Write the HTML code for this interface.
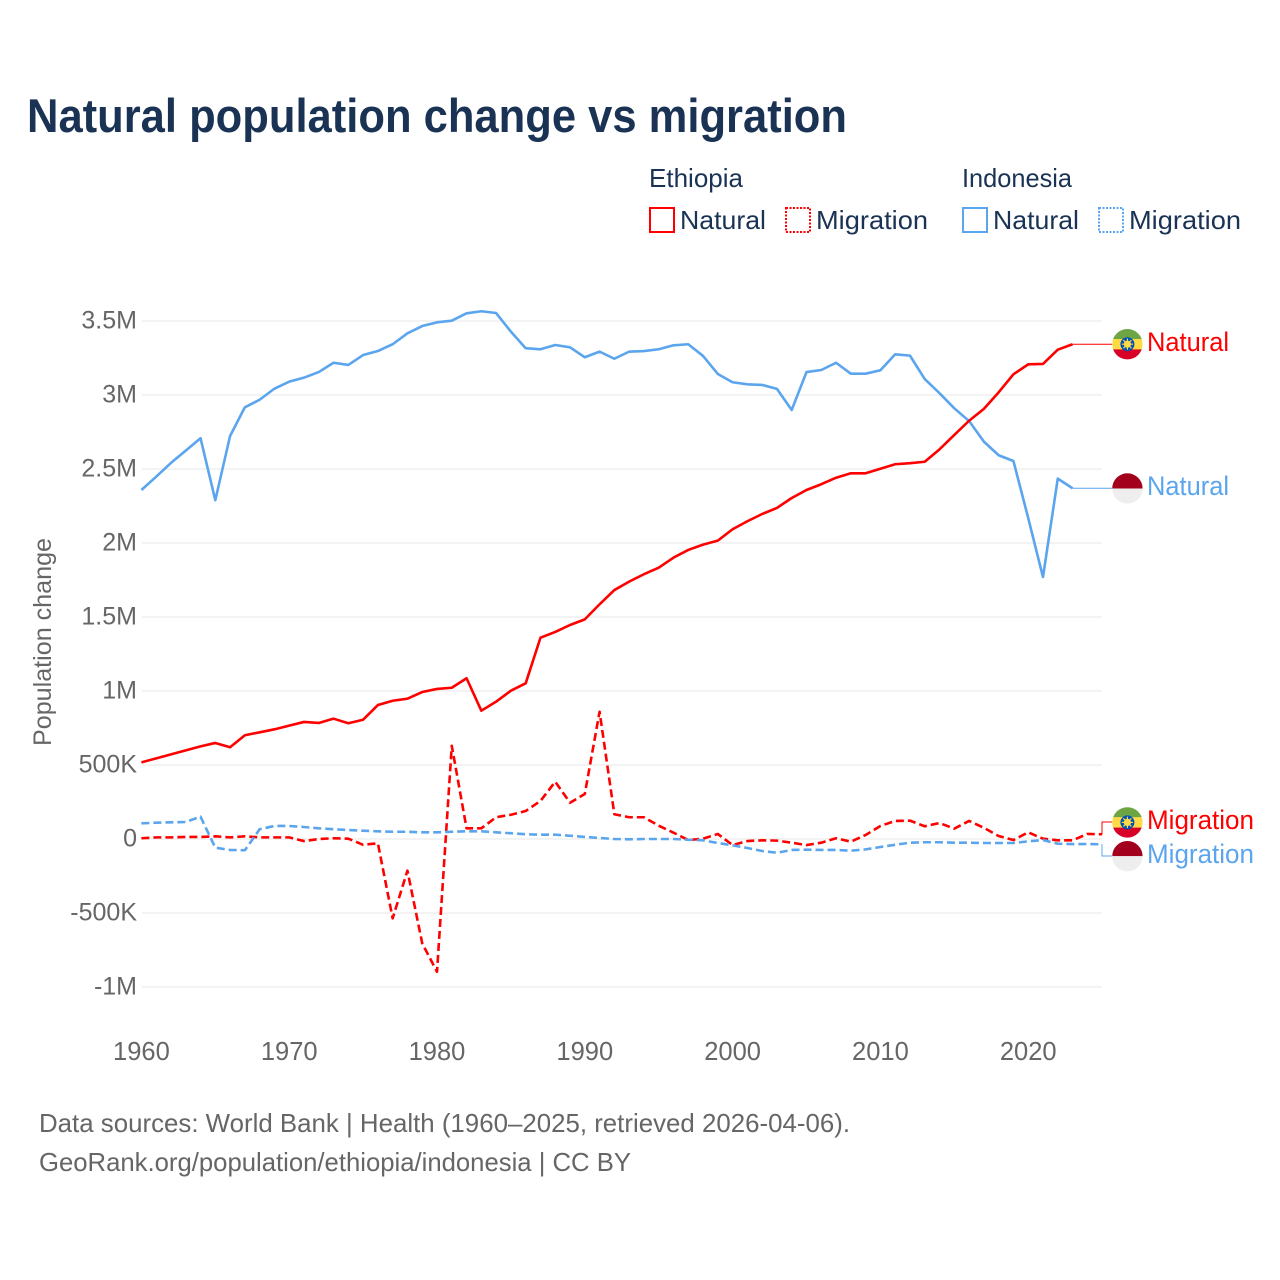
<!DOCTYPE html>
<html lang="en">
<head>
<meta charset="utf-8">
<title>Natural population change vs migration</title>
<style>
html,body{margin:0;padding:0;background:#fff}
svg{display:block}
text{font-family:"Liberation Sans",sans-serif}
</style>
</head>
<body>
<svg id="chart" xmlns="http://www.w3.org/2000/svg" width="1280" height="1280" viewBox="0 0 1280 1280">
<rect width="1280" height="1280" fill="#fff"/>
<text x="27" y="132" font-size="47" font-weight="700" fill="#1a3354" textLength="820" lengthAdjust="spacingAndGlyphs">Natural population change vs migration</text>

<g font-size="26" fill="#1a3354">
<text x="649" y="187" textLength="94" lengthAdjust="spacingAndGlyphs">Ethiopia</text>
<text x="962" y="187" textLength="110" lengthAdjust="spacingAndGlyphs">Indonesia</text>
<g>
<rect x="650" y="208" width="24" height="24" fill="none" stroke="#ff0000" stroke-width="2"/>
<text x="680" y="229" textLength="86" lengthAdjust="spacingAndGlyphs">Natural</text>
</g>
<g>
<rect x="786" y="208" width="24" height="24" fill="none" stroke="#ff0000" stroke-width="2" stroke-dasharray="2 1.5"/>
<text x="816" y="229" textLength="112" lengthAdjust="spacingAndGlyphs">Migration</text>
</g>
<g>
<rect x="963" y="208" width="24" height="24" fill="none" stroke="#5ba5ee" stroke-width="2"/>
<text x="993" y="229" textLength="86" lengthAdjust="spacingAndGlyphs">Natural</text>
</g>
<g>
<rect x="1099" y="208" width="24" height="24" fill="none" stroke="#5ba5ee" stroke-width="2" stroke-dasharray="2 1.5"/>
<text x="1129" y="229" textLength="112" lengthAdjust="spacingAndGlyphs">Migration</text>
</g>
</g>

<g id="grid"></g>
<g id="ytick-labels"></g>
<g id="xtick-labels"></g>
<text transform="translate(51 642) rotate(-90)" text-anchor="middle" font-size="25" fill="#666" textLength="208" lengthAdjust="spacingAndGlyphs">Population change</text>
<g id="series"></g>

<defs>
<clipPath id="flag-clip"><circle cx="0" cy="0" r="15.2"/></clipPath>
<g id="flag-et">
<g clip-path="url(#flag-clip)">
<rect x="-16" y="-16" width="32" height="11" fill="#6da544"/>
<rect x="-16" y="-5.2" width="32" height="10.6" fill="#ffda44"/>
<rect x="-16" y="5.2" width="32" height="11" fill="#d80027"/>
<circle r="7" fill="#0052b4"/>
<circle r="3.6" fill="#ffda44"/>
<path d="M0-5.6V5.6M-5.6 0H5.6M-4-4L4 4M-4 4L4-4" stroke="#ffda44" stroke-width="1.2"/>
</g>
</g>
<g id="flag-id">
<g clip-path="url(#flag-clip)">
<rect x="-16" y="-16" width="32" height="16" fill="#a2001d"/>
<rect x="-16" y="0" width="32" height="16" fill="#eeeeee"/>
</g>
</g>
</defs>
<use href="#flag-et" x="1127.4" y="344.2"/>
<use href="#flag-id" x="1127.4" y="488.5"/>
<use href="#flag-et" x="1127.4" y="822.4"/>
<use href="#flag-id" x="1127.4" y="856.2"/>

<g font-size="26.5">
<text x="1147" y="351" fill="#ff0000" textLength="82" lengthAdjust="spacingAndGlyphs">Natural</text>
<text x="1147" y="495" fill="#5ba5ee" textLength="82" lengthAdjust="spacingAndGlyphs">Natural</text>
<text x="1147" y="829" fill="#ff0000" textLength="107" lengthAdjust="spacingAndGlyphs">Migration</text>
<text x="1147" y="863" fill="#5ba5ee" textLength="107" lengthAdjust="spacingAndGlyphs">Migration</text>
</g>

<g font-size="26" fill="#666">
<text x="39" y="1132" textLength="811" lengthAdjust="spacingAndGlyphs">Data sources: World Bank | Health (1960–2025, retrieved 2026-04-06).</text>
<text x="39" y="1171" textLength="592" lengthAdjust="spacingAndGlyphs">GeoRank.org/population/ethiopia/indonesia | CC BY</text>
</g>
</svg>

<script>
// Values are in thousands of people.
const startYear = 1960;
const xTickYears = [1960, 1970, 1980, 1990, 2000, 2010, 2020];
const yTickValues = [3500, 3000, 2500, 2000, 1500, 1000, 500, 0, -500, -1000];
const yTickLabels = ["3.5M", "3M", "2.5M", "2M", "1.5M", "1M", "500K", "0", "-500K", "-1M"];

const ethiopiaNatural = [518, 545, 572, 599, 626, 649, 620, 701, 721, 741,
  766, 791, 784, 813, 782, 806, 905, 934, 948, 993,
  1014, 1022, 1086, 867, 928, 1002, 1052, 1360, 1399, 1446,
  1484, 1586, 1682, 1739, 1789, 1833, 1901, 1953, 1989, 2016,
  2093, 2147, 2196, 2237, 2304, 2358, 2397, 2441, 2471, 2471,
  2502, 2532, 2539, 2549, 2633, 2730, 2826, 2906, 3018, 3140,
  3207, 3210, 3306, 3343];

const indonesiaNatural = [2358, 2448, 2541, 2624, 2708, 2289, 2723, 2917, 2968, 3043,
  3090, 3117, 3155, 3218, 3203, 3270, 3297, 3343, 3417, 3466,
  3491, 3502, 3552, 3566, 3554, 3428, 3316, 3309, 3338, 3322,
  3255, 3293, 3245, 3293, 3297, 3309, 3336, 3343, 3264, 3142,
  3086, 3072, 3068, 3041, 2899, 3155, 3169, 3218, 3144, 3144,
  3167, 3275, 3266, 3108, 3012, 2910, 2824, 2685, 2593, 2554,
  2169, 1770, 2435, 2370];

const ethiopiaMigration = [5, 11, 11, 14, 14, 18, 11, 18, 11, 11,
  11, -14, 0, 5, 2, -39, -29, -536, -214, -705,
  -897, 630, 72, 72, 147, 164, 189, 257, 387, 245,
  304, 860, 167, 147, 147, 90, 43, -7, 2, 34,
  -41, -14, -9, -11, -25, -41, -25, 5, -18, 27,
  88, 122, 124, 86, 108, 70, 122, 76, 20, -7,
  45, 2, -9, -9, 34, 32];

const indonesiaMigration = [106, 110, 113, 115, 151, -59, -74, -76, 66, 88,
  88, 81, 72, 66, 61, 56, 52, 49, 49, 45,
  45, 49, 52, 52, 45, 39, 32, 29, 29, 22,
  14, 7, 0, -2, 0, 0, 0, -5, -9, -27,
  -43, -61, -81, -93, -74, -72, -74, -74, -79, -70,
  -54, -39, -25, -22, -22, -25, -25, -27, -27, -27,
  -16, -7, -32, -34, -34, -36];

const RED = "#ff0000";
const BLUE = "#5ba5ee";
const NS = "http://www.w3.org/2000/svg";

function xScale(year) { return 141.4 + (year - 1960) * 14.78; }
function yScale(v) { return 839 - v * 0.148; }

function make(tag, attrs, parent) {
  const el = document.createElementNS(NS, tag);
  for (const k in attrs) el.setAttribute(k, attrs[k]);
  parent.appendChild(el);
  return el;
}

const grid = document.getElementById("grid");
const yLabels = document.getElementById("ytick-labels");
const xLabels = document.getElementById("xtick-labels");
const seriesGroup = document.getElementById("series");

yTickValues.forEach(function (v, i) {
  const line = make("line", { x1: 142, x2: 1102, y1: yScale(v), y2: yScale(v), stroke: "#ececec", "stroke-width": 1.3 }, grid);
  
  
  const label = make("text", { x: 137, y: yScale(v) + 7.5, "text-anchor": "end", "font-size": 25, fill: "#666" }, yLabels);
  
  
  label.textContent = yTickLabels[i];
});

xTickYears.forEach(function (year) {
  const label = make("text", { x: xScale(year), y: 1060, "text-anchor": "middle", "font-size": 25.5, fill: "#666" }, xLabels);
  
  
  label.textContent = String(year);
});

function linePath(values) {
  return values.map(function (v, i) {
    return (i ? "L" : "M") + xScale(startYear + i).toFixed(2) + " " + yScale(v).toFixed(2);
  }).join("");
}

function drawSeries(values, color, dashed) {
  const path = make("path", { d: linePath(values), fill: "none", stroke: color, "stroke-width": 2.6, "stroke-linejoin": "round" }, seriesGroup);
  
  
  if (dashed) path.setAttribute("stroke-dasharray", "8 4");
}

function drawLeader(values, color, labelY) {
  const lastIndex = values.length - 1;
  const lx = xScale(startYear + lastIndex);
  const ly = yScale(values[lastIndex]);
  const isStraight = Math.abs(ly - labelY) < 4;
  const d = isStraight
    ? "M" + lx + " " + ly + "H1112"
    : "M" + lx + " " + ly + "H1102V" + labelY + "H1112";
  const leader = make("path", { d: d, fill: "none", stroke: color, "stroke-width": 1 }, seriesGroup);
  
  
}

drawSeries(indonesiaNatural, BLUE, false);
drawSeries(ethiopiaNatural, RED, false);
drawSeries(ethiopiaMigration, RED, true);
drawSeries(indonesiaMigration, BLUE, true);

drawLeader(ethiopiaNatural, RED, 344);
drawLeader(indonesiaNatural, BLUE, 488);
drawLeader(ethiopiaMigration, RED, 822);
drawLeader(indonesiaMigration, BLUE, 856);
</script>
</body>
</html>
